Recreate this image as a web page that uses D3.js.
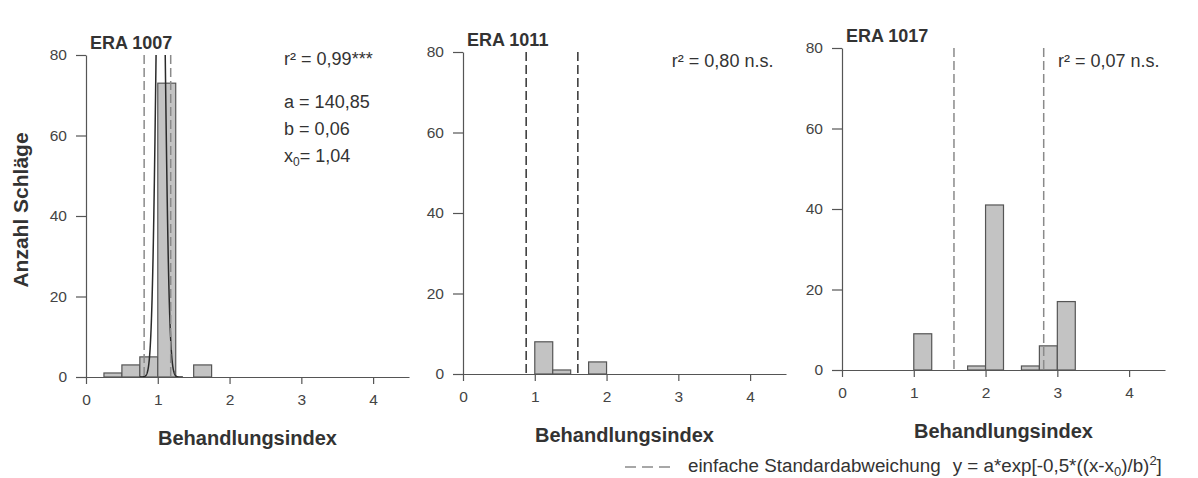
<!DOCTYPE html>
<html>
<head>
<meta charset="utf-8">
<script src="https://cdn.jsdelivr.net/npm/d3@7"></script>
<style>
  body { margin: 0; background: #fff; }
  svg { font-family: "Liberation Sans", Arial, sans-serif; }
  .tick text { fill: #444; font-size: 15.5px; }
  .tick line, .domain { stroke: #555; stroke-width: 1.2; }
</style>
</head>
<body>
<div id="chart"></div>
<script>
// bin width of the histograms (Behandlungsindex)
let binWidth = 0.25

// ERA 1007
let bins1007 = [0.25, 0.5, 0.75, 1.0, 1.5]
let counts1007 = [1, 3, 5, 73, 3]
let sd1007 = [0.81, 1.18]
let fit1007 = [140.85, 0.06, 1.04] // a, b, x0

// ERA 1011
let bins1011 = [1.0, 1.25, 1.75]
let counts1011 = [8, 1, 3]
let sd1011 = [0.88, 1.60]

// ERA 1017
let bins1017 = [1.0, 1.75, 2.0, 2.5, 2.75, 3.0]
let counts1017 = [9, 1, 41, 1, 6, 17]
let sd1017 = [1.56, 2.81]

let titles = ["ERA 1007", "ERA 1011", "ERA 1017"]
let r2Labels = ["r\u00b2 = 0,99***", "r\u00b2 = 0,80 n.s.", "r\u00b2 = 0,07 n.s."]
let xTicks = [0, 1, 2, 3, 4]
let yTicks = [0, 20, 40, 60, 80]

let svg = d3.select("#chart").append("svg")
    .attr("width", 1198)
    .attr("height", 478)

// where each panel sits on the page
let panels = [
  { left: 86,  top: 55, bottom: 377, bins: bins1007, counts: counts1007, sd: sd1007, sdColor: "#8a8a8a", fit: fit1007, r2x: 2.76, r2dy: 10 },
  { left: 463, top: 52, bottom: 374, bins: bins1011, counts: counts1011, sd: sd1011, sdColor: "#333",    fit: null,    r2x: 2.91, r2dy: 15 },
  { left: 842, top: 48, bottom: 370, bins: bins1017, counts: counts1017, sd: sd1017, sdColor: "#8a8a8a", fit: null,    r2x: 3.01, r2dy: 19 }
]

panels.forEach(function(p, i) {
  let x = d3.scaleLinear().domain([0, 4.5]).range([p.left, p.left + 323])
  let y = d3.scaleLinear().domain([0, 80]).range([p.bottom, p.top])

  let g = svg.append("g").attr("class", "panel")

  // histogram bars
  g.selectAll("rect")
    .data(p.bins.map(function(b, j) { return { x: b, n: p.counts[j] } }))
    .enter().append("rect")
      .attr("x", function(d) { return x(d.x) })
      .attr("width", function(d) { return x(d.x + binWidth) - x(d.x) })
      .attr("y", function(d) { return y(d.n) })
      .attr("height", function(d) { return y(0) - y(d.n) })
      .attr("fill", "#c3c3c3")
      .attr("stroke", "#555")
      .attr("stroke-width", 1.2)

  // gaussian fit, clipped at the top of the axis
  if (p.fit) {
    let a = p.fit[0], b = p.fit[1], x0 = p.fit[2]
    svg.append("clipPath").attr("id", "clip" + i)
      .append("rect")
        .attr("x", x(0)).attr("y", y(80))
        .attr("width", x(4.5) - x(0)).attr("height", y(0) - y(80))
    let line = d3.line()
        .x(function(d) { return x(d) })
        .y(function(d) { return y(a * Math.exp(-0.5 * Math.pow((d - x0) / b, 2))) })
    g.append("path")
        .datum(d3.range(0.75, 1.35, 0.002))
        .attr("clip-path", "url(#clip" + i + ")")
        .attr("d", line)
        .attr("fill", "none")
        .attr("stroke", "#2a2a2a")
        .attr("stroke-width", 1.5)
  }

  // standard deviation lines
  g.selectAll(".sd")
    .data(p.sd)
    .enter().append("line")
      .attr("class", "sd")
      .attr("x1", function(d) { return x(d) })
      .attr("x2", function(d) { return x(d) })
      .attr("y1", y(80))
      .attr("y2", y(0))
      .attr("stroke", p.sdColor)
      .attr("stroke-width", 1.5)
      .attr("stroke-dasharray", "9,4")

  // axes
  g.append("g")
      .attr("transform", "translate(0," + y(0) + ")")
      .call(d3.axisBottom(x).tickValues(xTicks).tickFormat(d3.format("d"))
        .tickSize(7).tickSizeOuter(0).tickPadding(10))
  g.append("g")
      .attr("transform", "translate(" + x(0) + ",0)")
      .call(d3.axisLeft(y).tickValues(yTicks).tickFormat(d3.format("d"))
        .tickSize(10).tickSizeOuter(0).tickPadding(9))
  g.selectAll(".tick text").attr("font-family", null)

  // title
  g.append("text")
      .attr("x", x(0) + 4)
      .attr("y", y(80) - 6)
      .attr("fill", "#333")
      .attr("font-size", 18)
      .attr("font-weight", "bold")
      .text(titles[i])

  // x label
  g.append("text")
      .attr("x", x(2.25))
      .attr("y", y(0) + 68)
      .attr("text-anchor", "middle")
      .attr("fill", "#333")
      .attr("font-size", 20)
      .attr("font-weight", "bold")
      .text("Behandlungsindex")

  // r² annotation
  g.append("text")
      .attr("x", x(p.r2x))
      .attr("y", y(80) + p.r2dy)
      .attr("fill", "#333")
      .attr("font-size", 18)
      .text(r2Labels[i])

  // fit parameters
  if (p.fit) {
    let t = g.append("text")
        .attr("x", x(p.r2x))
        .attr("fill", "#333")
        .attr("font-size", 18)
    t.append("tspan").attr("x", x(p.r2x)).attr("y", y(80) + 53).text("a = " + String(p.fit[0]).replace(".", ","))
    t.append("tspan").attr("x", x(p.r2x)).attr("y", y(80) + 80).text("b = " + String(p.fit[1]).replace(".", ","))
    t.append("tspan").attr("x", x(p.r2x)).attr("y", y(80) + 107).text("x")
    t.append("tspan").attr("dy", 4).attr("font-size", 12).text("0")
    t.append("tspan").attr("dy", -4).text("= " + String(p.fit[2]).replace(".", ","))
  }
})

// y axis label
svg.append("text")
    .attr("transform", "translate(28,210) rotate(-90)")
    .attr("text-anchor", "middle")
    .attr("fill", "#333")
    .attr("font-size", 21)
    .attr("font-weight", "bold")
    .text("Anzahl Schläge")

// legend
let legend = svg.append("g").attr("transform", "translate(625,468)")
legend.append("line")
    .attr("x1", 0).attr("x2", 46).attr("y1", -1).attr("y2", -1)
    .attr("stroke", "#8a8a8a")
    .attr("stroke-width", 1.5)
    .attr("stroke-dasharray", "11,6")
let lt = legend.append("text")
    .attr("x", 63)
    .attr("y", 4)
    .attr("fill", "#333")
    .attr("font-size", 18.8)
lt.append("tspan").text("einfache Standardabweichung")
lt.append("tspan").attr("dx", 12).text("y = a*exp[-0,5*((x-x")
lt.append("tspan").attr("dy", 4).attr("font-size", 13).text("0")
lt.append("tspan").attr("dy", -4).text(")/b)")
lt.append("tspan").attr("dy", -7).attr("font-size", 13).text("2")
lt.append("tspan").attr("dy", 7).text("]")
</script>
</body>
</html>
